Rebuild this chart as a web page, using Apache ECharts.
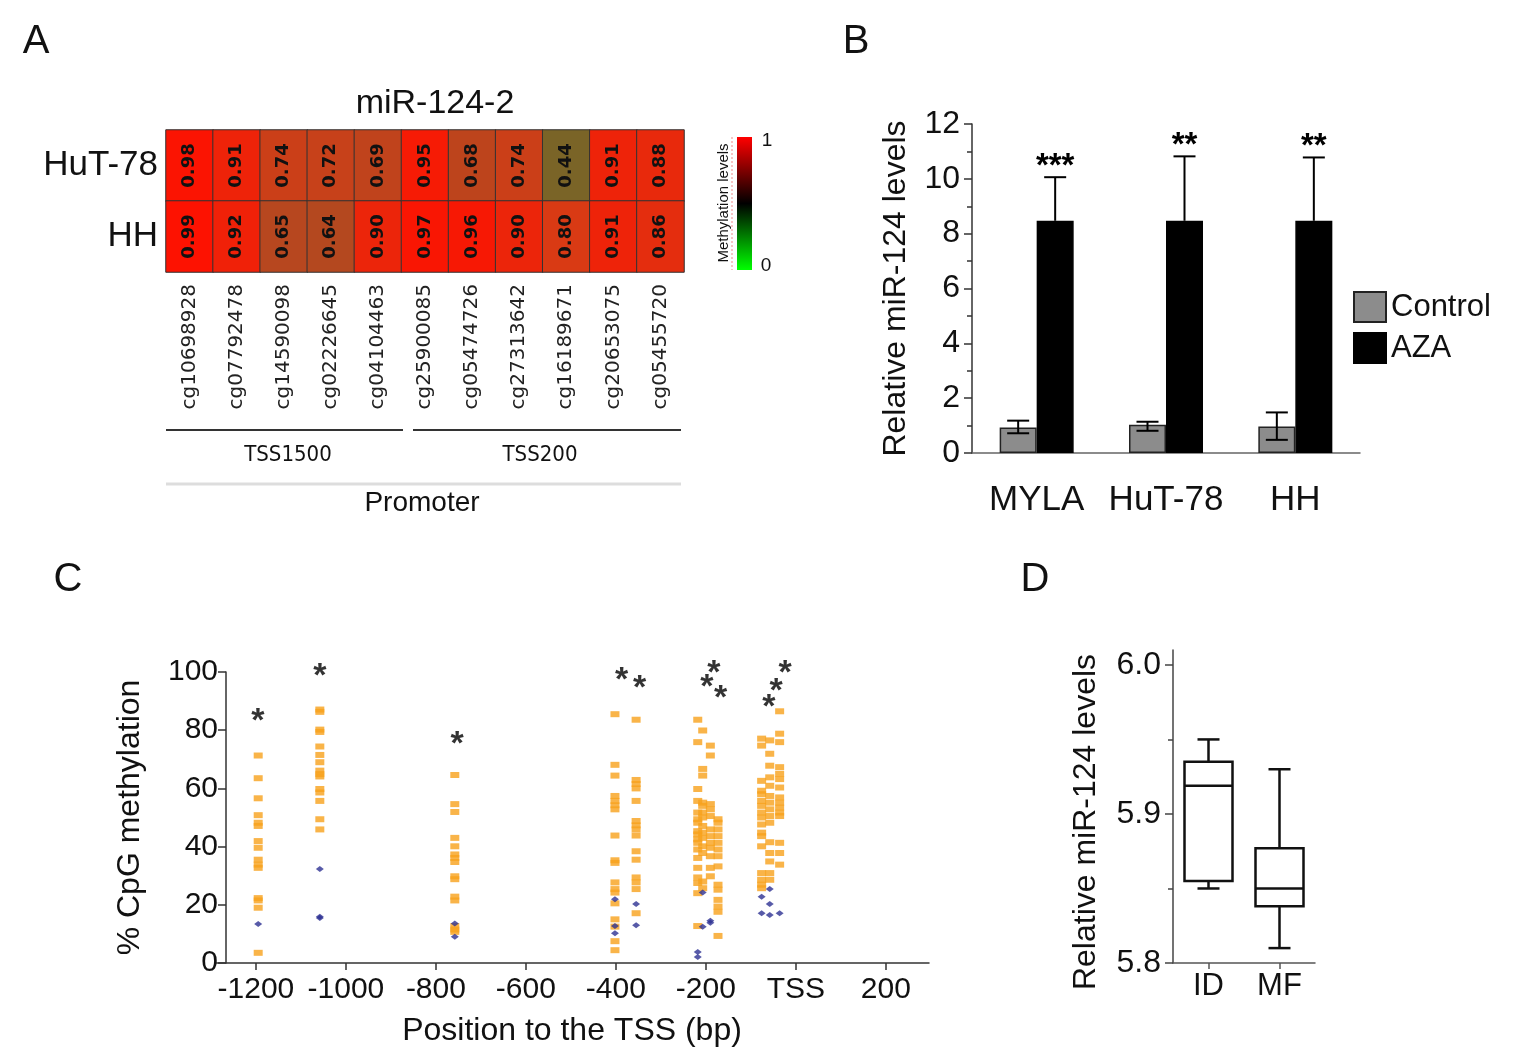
<!DOCTYPE html>
<html>
<head>
<meta charset="utf-8">
<script src="https://cdn.jsdelivr.net/npm/echarts@6/dist/echarts.min.js"></script>
<style>
html, body { margin: 0; padding: 0; background: #fff; }
#main { width: 1513px; height: 1063px; }
</style>
</head>
<body>
<div id="main"></div>
<script>
// A: methylation heatmap
var cgIds = ['cg10698928', 'cg07792478', 'cg14590098', 'cg02226645', 'cg04104463', 'cg25900085',
    'cg05474726', 'cg27313642', 'cg16189671', 'cg20653075', 'cg05455720'];
var rowNames = ['HuT-78', 'HH'];
var hut78Vals = [0.98, 0.91, 0.74, 0.72, 0.69, 0.95, 0.68, 0.74, 0.44, 0.91, 0.88];
var hhVals = [0.99, 0.92, 0.65, 0.64, 0.90, 0.97, 0.96, 0.90, 0.80, 0.91, 0.86];

// B: miR-124 after AZA
var cellLines = ['MYLA', 'HuT-78', 'HH'];
var ctrlMean = [0.93, 1.03, 0.97];
var ctrlLow = [0.72, 0.81, 0.48];
var ctrlHigh = [1.18, 1.14, 1.48];
var azaMean = [8.47, 8.47, 8.47];
var azaHigh = [10.06, 10.82, 10.78];
var azaSig = ['***', '**', '**'];

// C: CpG methylation by position
var cpgSites = [-1195, -1058, -758, -402, -355, -218, -207, -190, -173, -76, -58, -36];
var orangeBySite = [
    [71.3, 63.5, 56.6, 50.8, 48.2, 47.1, 41.9, 39.6, 35.5, 33.8, 32.7, 22.3, 21.5, 19.0, 3.5],
    [87.1, 86.3, 80.2, 79.4, 74.4, 71.5, 69.0, 66.1, 64.9, 64.1, 59.8, 58.6, 55.7, 49.4, 45.9],
    [64.6, 54.6, 51.9, 43.0, 40.1, 37.3, 36.1, 34.7, 29.8, 28.8, 22.8, 21.5, 12.7, 11.5, 10.7],
    [85.5, 68.1, 64.4, 57.4, 55.7, 54.2, 52.8, 43.8, 35.3, 34.4, 27.7, 25.4, 24.2, 20.5, 15.0, 12.5, 7.5, 4.4],
    [83.6, 62.9, 61.5, 60.0, 55.7, 48.8, 47.3, 45.9, 43.8, 38.4, 35.5, 29.4, 27.7, 25.4, 17.1],
    [83.6, 75.9, 59.8, 55.7, 51.7, 49.4, 48.2, 45.3, 44.2, 42.5, 41.3, 39.0, 36.1, 32.7, 29.4, 27.5, 24.0, 12.7],
    [79.9, 66.7, 64.4, 55.1, 54.0, 51.7, 50.0, 47.1, 44.8, 43.0, 40.1, 37.8, 28.0, 25.7],
    [74.7, 71.3, 54.6, 52.8, 50.5, 45.9, 43.6, 41.3, 39.6, 36.7, 32.7, 29.8],
    [49.4, 48.2, 45.9, 43.6, 41.3, 39.0, 36.7, 33.2, 26.9, 25.2, 21.7, 19.4, 17.6, 9.3],
    [77.1, 74.7, 62.6, 59.2, 58.0, 55.7, 54.0, 51.7, 50.0, 47.6, 44.8, 43.6, 40.1, 30.9, 28.6, 26.9, 25.7],
    [76.5, 71.9, 67.8, 63.8, 60.9, 57.4, 55.1, 52.8, 50.5, 48.2, 41.5, 37.8, 34.9, 30.9, 28.6],
    [86.5, 78.8, 75.9, 67.3, 65.0, 63.2, 60.3, 56.9, 55.1, 53.4, 51.7, 50.5, 41.3, 37.8, 33.8]
];
var blueBySite = [
    [13.4], [32.3, 15.9, 15.5], [13.6, 9.0], [21.9, 12.7, 10.2], [20.3, 13.0],
    [3.8, 2.1], [12.5, 24.2], [14.5, 13.8], [], [22.8, 17.1], [25.4, 20.3, 16.5], [17.1]
];
var starX = [-1196, -1058, -753, -387, -347, -182, -198, -167, -60, -44, -24];
var starY = [86.1, 101.6, 78.1, 100.3, 97.5, 102.7, 97.8, 94.0, 90.9, 96.4, 102.7];
var posTicks = [-1200, -1000, -800, -600, -400, -200, 0, 200];

// D: box plot
var boxGroups = ['ID', 'MF'];
var boxMin = [5.850, 5.810];
var boxQ1 = [5.855, 5.838];
var boxMed = [5.919, 5.850];
var boxQ3 = [5.935, 5.877];
var boxMax = [5.950, 5.930];

var F = '"Liberation Sans", Arial, sans-serif';

var heatData = [];
cgIds.forEach(function (c, i) {
    heatData.push([i, 0, hut78Vals[i]]);
    heatData.push([i, 1, hhVals[i]]);
});

var orangePts = [];
var bluePts = [];
cpgSites.forEach(function (s, k) {
    orangeBySite[k].forEach(function (v) { orangePts.push([s, v]); });
    blueBySite[k].forEach(function (v) { bluePts.push([s, v]); });
});
var starPts = starX.map(function (x, i) { return [x, starY[i]]; });

function errRender(shift, both, sig) {
    return function (params, api) {
        var i = api.value(0);
        var lo = api.coord([i, api.value(1)]);
        var hi = api.coord([i, api.value(2)]);
        var x = lo[0] + shift;
        var half = 11;
        var st = { stroke: '#000', lineWidth: 2 };
        var children = [
            { type: 'line', shape: { x1: x, y1: lo[1], x2: x, y2: hi[1] }, style: st },
            { type: 'line', shape: { x1: x - half, y1: hi[1], x2: x + half, y2: hi[1] }, style: st }
        ];
        if (both) {
            children.push({ type: 'line', shape: { x1: x - half, y1: lo[1], x2: x + half, y2: lo[1] }, style: st });
        }
        if (sig) {
            children.push({
                type: 'text', x: x, y: hi[1] + 6,
                style: { text: sig[params.dataIndex], align: 'center', verticalAlign: 'bottom',
                    font: 'bold 33px ' + F, fill: '#000' }
            });
        }
        return { type: 'group', children: children };
    };
}

function boxRender(params, api) {
    var i = api.value(0);
    var pMin = api.coord([i, api.value(1)]);
    var pQ1 = api.coord([i, api.value(2)]);
    var pMed = api.coord([i, api.value(3)]);
    var pQ3 = api.coord([i, api.value(4)]);
    var pMax = api.coord([i, api.value(5)]);
    var x = pMin[0], hw = 24, cw = 11;
    var st = { stroke: '#111', lineWidth: 2.5 };
    return {
        type: 'group',
        children: [
            { type: 'line', shape: { x1: x, y1: pMax[1], x2: x, y2: pQ3[1] }, style: st },
            { type: 'line', shape: { x1: x, y1: pQ1[1], x2: x, y2: pMin[1] }, style: st },
            { type: 'line', shape: { x1: x - cw, y1: pMax[1], x2: x + cw, y2: pMax[1] }, style: st },
            { type: 'line', shape: { x1: x - cw, y1: pMin[1], x2: x + cw, y2: pMin[1] }, style: st },
            { type: 'rect', shape: { x: x - hw, y: pQ3[1], width: 2 * hw, height: pQ1[1] - pQ3[1] },
                style: { fill: '#fff', stroke: '#111', lineWidth: 2.5 } },
            { type: 'line', shape: { x1: x - hw, y1: pMed[1], x2: x + hw, y2: pMed[1] }, style: st }
        ]
    };
}

function txt(x, y, text, font, extra) {
    var o = { type: 'text', x: x, y: y,
        style: { text: text, font: font, fill: '#111', align: 'center', verticalAlign: 'middle' } };
    if (extra) { for (var k in extra) o[k] = extra[k]; }
    return o;
}

var chart = echarts.init(document.getElementById('main'));
var option = {
    animation: false,
    backgroundColor: '#fff',
    textStyle: { fontFamily: F },
    grid: [
        { left: 166, top: 130, width: 518, height: 142 },
        { left: 972, top: 124, width: 388, height: 329 },
        { left: 215, top: 672, width: 714, height: 291 },
        { left: 1173, top: 650, width: 142, height: 313 }
    ],
    xAxis: [
        { gridIndex: 0, type: 'category', data: cgIds,
            axisLine: { show: false }, axisTick: { show: false }, splitLine: { show: false },
            axisLabel: { interval: 0, rotate: 90, fontSize: 20, fontFamily: '"DejaVu Sans", sans-serif', color: '#222', margin: 12 } },
        { gridIndex: 1, type: 'category', data: cellLines,
            axisLine: { lineStyle: { color: '#666', width: 1.5 } }, axisTick: { show: false },
            axisLabel: { interval: 0, fontSize: 35, color: '#111', margin: 30 } },
        { gridIndex: 2, type: 'value', min: -1291, max: 296,
            axisLine: { show: true, onZero: false, lineStyle: { color: '#333', width: 1.5 } },
            axisTick: { show: true, length: 7, customValues: posTicks, lineStyle: { color: '#333', width: 1.5 } },
            axisLabel: { customValues: posTicks, fontSize: 30, color: '#111', margin: 12,
                formatter: function (v) { return v === 0 ? 'TSS' : String(v); } },
            splitLine: { show: false },
            name: 'Position to the TSS (bp)', nameLocation: 'middle', nameGap: 52,
            nameTextStyle: { fontSize: 32, color: '#111' } },
        { gridIndex: 3, type: 'category', data: boxGroups,
            axisLine: { lineStyle: { color: '#555', width: 1.5 } },
            axisTick: { show: true, alignWithLabel: true, length: 6, lineStyle: { color: '#555', width: 1.5 } },
            axisLabel: { interval: 0, fontSize: 31, color: '#111', margin: 8 } }
    ],
    yAxis: [
        { gridIndex: 0, type: 'category', data: rowNames, inverse: true,
            axisLine: { show: false }, axisTick: { show: false },
            axisLabel: { fontSize: 35, color: '#111', margin: 8 } },
        { gridIndex: 1, type: 'value', min: 0, max: 12, interval: 2,
            axisLine: { show: true, lineStyle: { color: '#333', width: 1.5 } },
            axisTick: { show: true, length: 8, lineStyle: { color: '#333', width: 1.5 } },
            minorTick: { show: true, splitNumber: 2, length: 5, lineStyle: { color: '#333', width: 1.5 } },
            splitLine: { show: false },
            axisLabel: { fontSize: 32, color: '#111', margin: 12 },
            name: 'Relative miR-124 levels', nameLocation: 'middle', nameGap: 60,
            nameTextStyle: { fontSize: 32, color: '#111' } },
        { gridIndex: 2, type: 'value', min: 0, max: 100, interval: 20, offset: -11,
            axisLine: { show: true, onZero: false, lineStyle: { color: '#333', width: 1.5 } },
            axisTick: { show: true, length: 8, lineStyle: { color: '#333', width: 1.5 } },
            splitLine: { show: false },
            axisLabel: { fontSize: 30, color: '#111', margin: 8 },
            name: '% CpG methylation', nameLocation: 'middle', nameGap: 80,
            nameTextStyle: { fontSize: 32, color: '#111' } },
        { gridIndex: 3, type: 'value', min: 5.8, max: 6.01, interval: 0.1,
            axisLine: { show: true, lineStyle: { color: '#444', width: 1.5 } },
            axisTick: { show: true, length: 8, customValues: [5.8, 5.9, 6.0], lineStyle: { color: '#444', width: 1.5 } },
            minorTick: { show: true, splitNumber: 2, length: 5, lineStyle: { color: '#444', width: 1.5 } },
            splitLine: { show: false },
            axisLabel: { fontSize: 32, color: '#111', margin: 12, customValues: [5.8, 5.9, 6.0],
                formatter: function (v) { return v.toFixed(1); } } }
    ],
    visualMap: [{
        type: 'continuous', show: false, seriesIndex: 0, dimension: 2, min: 0.4, max: 1,
        inRange: { color: ['#6e6a28', '#ab4b22', '#d93a14', '#ff1000'] }
    }],
    legend: {
        data: ['Control', 'AZA'], orient: 'vertical', left: 1348, top: 286, icon: 'rect',
        itemWidth: 32, itemHeight: 30, itemGap: 9,
        textStyle: { fontSize: 31, color: '#111', fontFamily: F }
    },
    series: [
        { type: 'heatmap', xAxisIndex: 0, yAxisIndex: 0, data: heatData,
            itemStyle: { borderColor: '#333', borderWidth: 1 },
            label: { show: true, rotate: 90, fontSize: 18, fontWeight: 'bold',
                fontFamily: '"DejaVu Sans", sans-serif', color: '#111',
                formatter: function (p) { return p.value[2].toFixed(2); } } },
        { name: 'Control', type: 'bar', xAxisIndex: 1, yAxisIndex: 1, data: ctrlMean,
            barWidth: 37, barGap: '0%',
            itemStyle: { color: '#8c8c8c', borderColor: '#222', borderWidth: 1.5 } },
        { name: 'AZA', type: 'bar', xAxisIndex: 1, yAxisIndex: 1, data: azaMean,
            barWidth: 37, barGap: '0%',
            itemStyle: { color: '#000', borderColor: '#000', borderWidth: 1.5 } },
        { type: 'custom', xAxisIndex: 1, yAxisIndex: 1, z: 5,
            data: ctrlMean.map(function (m, i) { return [i, ctrlLow[i], ctrlHigh[i]]; }),
            encode: { x: 0, y: [1, 2] }, renderItem: errRender(-18.5, true, null) },
        { type: 'custom', xAxisIndex: 1, yAxisIndex: 1, z: 5,
            data: azaMean.map(function (m, i) { return [i, m, azaHigh[i]]; }),
            encode: { x: 0, y: [1, 2] }, renderItem: errRender(18.5, false, azaSig) },
        { type: 'scatter', xAxisIndex: 2, yAxisIndex: 2, data: orangePts,
            symbol: 'rect', symbolSize: [9, 6], itemStyle: { color: '#f8a11c' } },
        { type: 'scatter', xAxisIndex: 2, yAxisIndex: 2, data: bluePts,
            symbol: 'diamond', symbolSize: [8, 6], itemStyle: { color: '#2d3192' } },
        { type: 'scatter', xAxisIndex: 2, yAxisIndex: 2, data: starPts, clip: false,
            symbolSize: 2, itemStyle: { color: 'rgba(0,0,0,0)' },
            label: { show: true, position: 'inside', formatter: '*', fontSize: 34, fontWeight: 'bold',
                color: '#000', offset: [0, 9] } },
        { type: 'custom', xAxisIndex: 3, yAxisIndex: 3,
            data: boxGroups.map(function (g, i) { return [i, boxMin[i], boxQ1[i], boxMed[i], boxQ3[i], boxMax[i]]; }),
            encode: { x: 0, y: [1, 2, 3, 4, 5] }, renderItem: boxRender }
    ],
    graphic: [
        txt(36, 42, 'A', '40px ' + F),
        txt(856, 42, 'B', '40px ' + F),
        txt(68, 580, 'C', '40px ' + F),
        txt(1035, 580, 'D', '40px ' + F),
        txt(435, 104, 'miR-124-2', '34px ' + F),
        { type: 'rect', shape: { x: 737, y: 137, width: 15, height: 133 },
            style: { fill: new echarts.graphic.LinearGradient(0, 0, 0, 1, [
                { offset: 0, color: '#ff0000' }, { offset: 0.5, color: '#000000' }, { offset: 1, color: '#00ff00' }]) } },
        txt(767, 141, '1', '19px ' + F),
        txt(766, 266, '0', '19px ' + F),
        txt(724, 203, 'Methylation levels', '15px ' + F, { rotation: Math.PI / 2 }),
        { type: 'line', shape: { x1: 732, y1: 137, x2: 732, y2: 270 },
            style: { stroke: '#f08a8a', lineWidth: 1, lineDash: [2, 2] } },
        { type: 'line', shape: { x1: 166, y1: 430, x2: 403, y2: 430 }, style: { stroke: '#333', lineWidth: 2 } },
        { type: 'line', shape: { x1: 413, y1: 430, x2: 681, y2: 430 }, style: { stroke: '#333', lineWidth: 2 } },
        txt(288, 455, 'TSS1500', '22px "Liberation Sans Narrow", "DejaVu Sans Condensed", sans-serif'),
        txt(540, 455, 'TSS200', '22px "Liberation Sans Narrow", "DejaVu Sans Condensed", sans-serif'),
        { type: 'line', shape: { x1: 166, y1: 484, x2: 681, y2: 484 }, style: { stroke: '#ddd', lineWidth: 3 } },
        txt(422, 503, 'Promoter', '28px ' + F),
        txt(1086, 822, 'Relative miR-124 levels', '32px ' + F, { rotation: Math.PI / 2 })
    ]
};
chart.setOption(option);
</script>
</body>
</html>
